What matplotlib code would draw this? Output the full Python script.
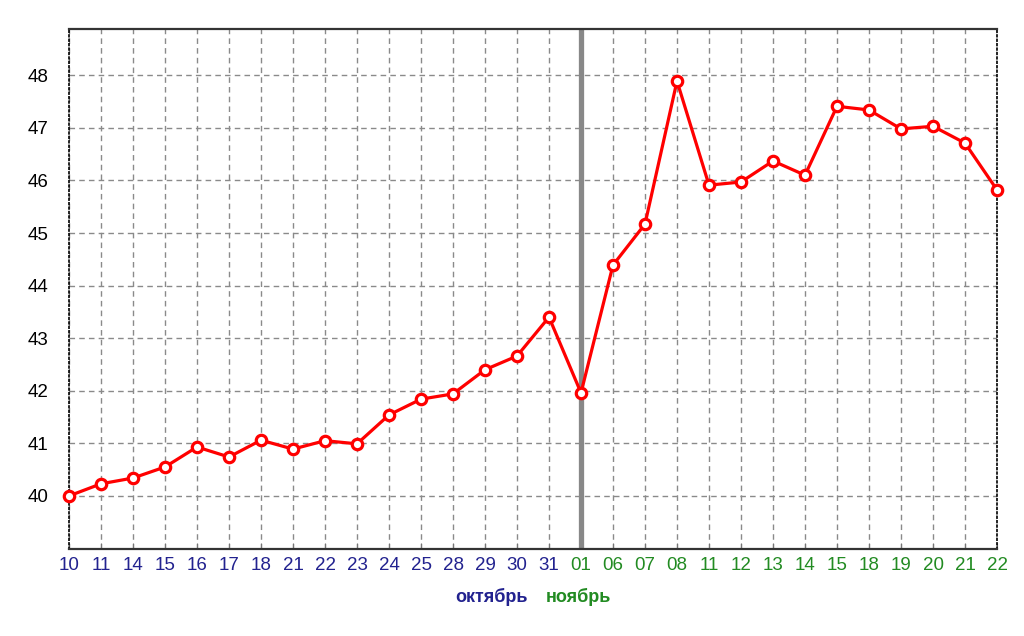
import matplotlib
matplotlib.use("Agg")
from matplotlib import pyplot as plt

oct_days = ['10', '11', '14', '15', '16', '17', '18', '21', '22', '23', '24', '25', '28', '29', '30', '31']
nov_days = ['01', '06', '07', '08', '11', '12', '13', '14', '15', '18', '19', '20', '21', '22']
oct_values = [40.00, 40.23, 40.34, 40.55, 40.93, 40.74, 41.06, 40.89, 41.05, 40.99,
              41.54, 41.84, 41.94, 42.40, 42.66, 43.40]
nov_values = [41.96, 44.39, 45.17, 47.89, 45.91, 45.97, 46.37, 46.10, 47.41, 47.34,
              46.98, 47.03, 46.71, 45.82]
y_ticks = [40, 41, 42, 43, 44, 45, 46, 47, 48]

blue = '#22228f'
green = '#228b22'

labels = oct_days + nov_days
values = oct_values + nov_values
x = list(range(len(labels)))

plt.rcParams['font.family'] = ['Liberation Sans', 'DejaVu Sans']

fig = plt.figure(figsize=(10.24, 6.36), dpi=100)
ax = fig.add_axes([69 / 1024, 87 / 636, 928 / 1024, 520 / 636])

ax.set_xlim(0, len(labels) - 1)
ax.set_ylim(38.99, 48.88)

ax.set_xticks(x)
ax.set_xticklabels(labels, fontsize=13.5)
for i, t in enumerate(ax.get_xticklabels()):
    t.set_color(blue if i < len(oct_days) else green)
ax.set_yticks(y_ticks)
ax.set_yticklabels([str(v) for v in y_ticks], fontsize=13.5)

ax.tick_params(axis='x', direction='in', length=4, width=0.8, color='#777777', pad=6)
ax.tick_params(axis='y', length=0, pad=15)

ax.grid(True, color='#8a8a8a', linestyle=(0, (4, 3)), linewidth=1)
ax.set_axisbelow(True)

for side in ['top', 'bottom']:
    ax.spines[side].set_linewidth(1.6)
    ax.spines[side].set_color('#333333')
for side in ['left', 'right']:
    ax.spines[side].set_linestyle(':')
    ax.spines[side].set_linewidth(1.2)
    ax.spines[side].set_color('black')

ax.axvline(len(oct_days), color='#888888', linewidth=3.8, zorder=2)

ax.plot(x, values, color='red', linewidth=2.3, marker='o', markersize=7.5,
        markerfacecolor='white', markeredgecolor='red', markeredgewidth=2.3,
        clip_on=False, zorder=3)

fig.text(491 / 1024, 1 - 597 / 636, 'октябрь', color=blue, fontsize=13,
         fontweight='bold', ha='center', va='center')
fig.text(578 / 1024, 1 - 597 / 636, 'ноябрь', color=green, fontsize=13,
         fontweight='bold', ha='center', va='center')

fig.savefig('out.png', dpi=100, facecolor='white')
